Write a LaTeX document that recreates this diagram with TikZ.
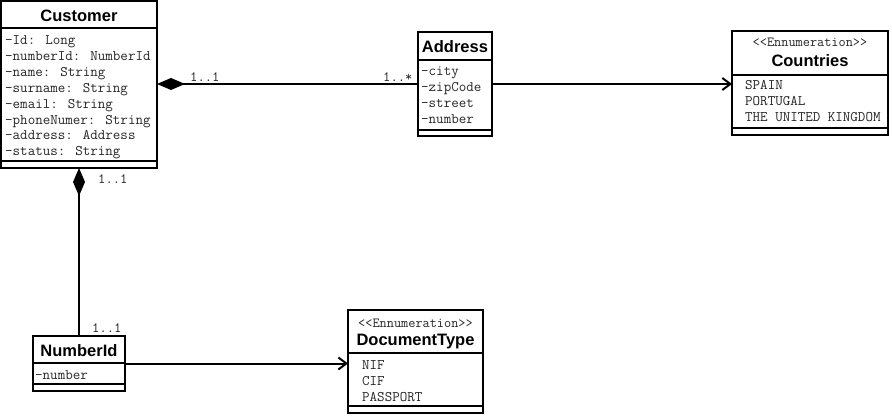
\documentclass[tikz,border=0pt]{standalone}
\usepackage{fontspec}
\setmainfont{Liberation Sans}
\usetikzlibrary{arrows.meta}
\tikzset{
  classbox/.style={draw, line width=2pt, anchor=north west, inner sep=0pt, outer sep=0pt},
  sep/.style={line width=2pt},
  ttl/.style={font=\bfseries\fontsize{16.5}{18}\selectfont, anchor=base, inner sep=0pt},
  attr/.style={font=\ttfamily\fontsize{14.6}{16}\selectfont, anchor=base west, inner sep=0pt, text=black!85},
  ster/.style={font=\ttfamily\fontsize{13.9}{16}\selectfont, anchor=base, inner sep=0pt, text=black!85},
  mult/.style={font=\ttfamily\fontsize{14.2}{16}\selectfont, anchor=base west, inner sep=0pt, text=black!85},
  conn/.style={line width=2pt},
  comp/.style={conn, {Diamond[length=28pt,width=12pt]}-},
  nav/.style={conn, -{Straight Barb[length=8pt,width=12pt]}},
}
\begin{document}
\begin{tikzpicture}[x=1pt,y=-1pt]
\useasboundingbox[fill=white] (0,0) rectangle (892,417);

% Customer
\node[classbox, minimum width=156pt, minimum height=167pt] (cust) at (1,1) {};
\draw[sep] (1,28) -- (157,28);
\draw[sep] (1,161) -- (157,161);
\node[ttl] (custT) at (79,22) {Customer};
\node[attr] (ca1) at (5,45) {-Id: Long};
\node[attr] (ca2) at (5,61) {-numberId: NumberId};
\node[attr] (ca3) at (5,77) {-name: String};
\node[attr] (ca4) at (5,92.5) {-surname: String};
\node[attr] (ca5) at (5,108.5) {-email: String};
\node[attr] (ca6) at (5,124.5) {-phoneNumer: String};
\node[attr] (ca7) at (5,140) {-address: Address};
\node[attr] (ca8) at (5,156) {-status: String};

% Address
\node[classbox, minimum width=74pt, minimum height=104pt] (addr) at (418,32) {};
\draw[sep] (418,60) -- (492,60);
\draw[sep] (418,130) -- (492,130);
\node[ttl] (addrT) at (455,53) {Address};
\node[attr] (aa1) at (421,76) {-city};
\node[attr] (aa2) at (421,92) {-zipCode};
\node[attr] (aa3) at (421,108) {-street};
\node[attr] (aa4) at (421,124) {-number};

% Countries
\node[classbox, minimum width=156pt, minimum height=104pt] (ctry) at (732,31) {};
\draw[sep] (732,75) -- (888,75);
\draw[sep] (732,128) -- (888,128);
\node[ster] (ctryS) at (810,47) {<<Ennumeration>>};
\node[ttl] (ctryT) at (810,67) {Countries};
\node[attr] (co1) at (745,90) {SPAIN};
\node[attr] (co2) at (745,106) {PORTUGAL};
\node[attr] (co3) at (745,122) {THE UNITED KINGDOM};

% NumberId
\node[classbox, minimum width=92pt, minimum height=55pt] (nid) at (33,336) {};
\draw[sep] (33,363) -- (125,363);
\draw[sep] (33,384) -- (125,384);
\node[ttl] (nidT) at (79,356) {NumberId};
\node[attr] (na1) at (35,379) {-number};

% DocumentType
\node[classbox, minimum width=135pt, minimum height=103pt] (doc) at (348,310) {};
\draw[sep] (348,353) -- (483,353);
\draw[sep] (348,406) -- (483,406);
\node[ster] (docS) at (415.5,327) {<<Ennumeration>>};
\node[ttl] (docT) at (415.5,345) {DocumentType};
\node[attr] (d1) at (362,369) {NIF};
\node[attr] (d2) at (362,385) {CIF};
\node[attr] (d3) at (362,401) {PASSPORT};

% Connectors
\draw[comp] (cust.east |- addr.west) -- (addr.west);
\draw[nav] (addr.east) -- (addr.east -| ctry.west);
\draw[comp] (cust.south) -- (nid.north);
\draw[nav] (nid.east) -- (nid.east -| doc.west);

% Multiplicities
\node[mult] (m1) at (190,82) {1..1};
\node[mult] (m2) at (383,82) {1..*};
\node[mult] (m3) at (98,183) {1..1};
\node[mult] (m4) at (92,332) {1..1};
\end{tikzpicture}
\end{document}
